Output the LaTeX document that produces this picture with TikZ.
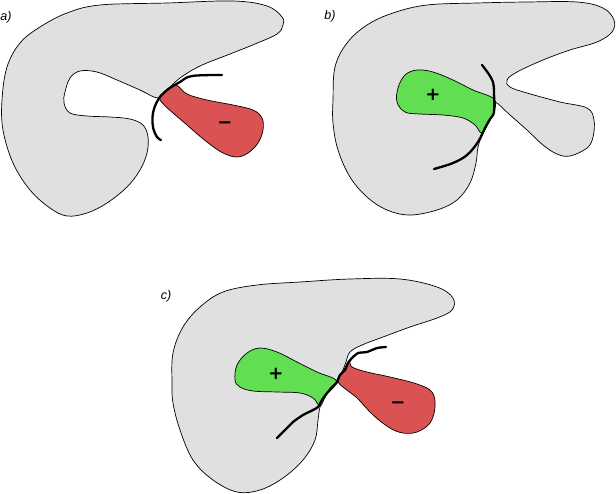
\documentclass[tikz,border=0pt]{standalone}
\usepackage{fontspec}
\setmainfont{Liberation Sans}
\newfontfamily\signfont{DejaVu Sans}
\definecolor{liver}{HTML}{E0E0E0}
\definecolor{neg}{HTML}{DB5252}
\definecolor{pos}{HTML}{62DE52}
\tikzset{
  organ/.style={fill=liver, draw=black, line width=0.7pt},
  lobeneg/.style={fill=neg, draw=black, line width=0.7pt},
  lobepos/.style={fill=pos, draw=black, line width=0.7pt},
  cut/.style={draw=black, line width=2.3pt, line cap=round, line join=round},
  lbl/.style={font=\itshape\fontsize{12.5}{12.5}\selectfont, inner sep=0pt},
  sign/.style={font=\signfont\bfseries\fontsize{18}{18}\selectfont, inner sep=0pt}
}
\begin{document}
\begin{tikzpicture}[x=1pt, y=-1pt]
\useasboundingbox (0,0) rectangle (616,493);
% ---------- a) ----------
\draw[organ] plot[smooth cycle, tension=0.6] coordinates {
 (180,78) (167,90) (158,98) (140,90) (117,80) (97,72) (80,71) (70,78) (65,92) (64,103)
 (70,113) (87,116) (110,117) (130,119) (143,125) (148,137) (147,153) (140,170)
 (127,187) (107,203) (87,213) (67,216) (50,208) (30,190) (13,163) (3,130) (2,100)
 (7,67) (20,43) (40,27) (67,13) (100,5) (167,3) (233,1) (267,6) (282,17) (283,25)
 (277,34) (255,44) (230,54) (200,66)};
\draw[lobeneg] plot[smooth cycle, tension=0.6] coordinates {
 (176,85) (187,94) (207,100) (233,105) (253,110) (262,118) (263,130) (258,143)
 (248,153) (237,157) (223,153) (207,142) (187,125) (160,100) (167,91)};
\draw[cut] plot[smooth, tension=0.6] coordinates {
 (222,75) (192,76) (180,82) (167,90) (158,100) (153,113) (153,127) (157,137) (161,140)};
\node[sign] (minusA) at (225,125) {−};
\node[lbl] (labA) at (6,17) {a)};
% ---------- b) ----------
\draw[organ] plot[smooth cycle, tension=0.6] coordinates {
 (333,100) (335,67) (347,43) (367,25) (393,13) (427,5) (477,3) (527,2) (577,2)
 (603,8) (614,20) (612,32) (597,42) (570,50) (543,60) (517,72) (507,80) (510,87)
 (527,93) (560,102) (587,108) (594,120) (593,137) (587,148) (570,156) (557,154)
 (543,145) (527,130) (510,115) (495,102) (494,112) (490,120) (483,133)
 (478,147) (476,163) (470,183) (457,200) (437,210) (410,215) (387,210) (367,197)
 (350,177) (338,150) (333,123)};
\draw[lobepos] plot[smooth cycle, tension=0.6] coordinates {
 (397,102) (398,88) (405,75) (417,70) (433,72) (453,80) (473,90) (494,99)
 (494,112) (490,120) (482,133) (475,125) (463,118) (443,115) (420,114) (405,112)};
\draw[cut] plot[smooth, tension=0.6] coordinates {
 (482,65) (488,73) (493,82) (494,93) (494,112) (490,119) (485,128) (478,142)
 (467,155) (453,163) (434,169)};
\node[sign] (plusB) at (433,95) {+};
\node[lbl] (labB) at (330,16) {b)};
% ---------- c) ----------
\draw[organ] plot[smooth cycle, tension=0.6] coordinates {
 (172,383) (173,353) (183,327) (200,307) (223,292) (257,285) (300,282) (350,279)
 (400,279) (437,287) (453,298) (452,310) (437,318) (410,327) (383,337) (362,345)
 (350,352) (346,362) (342,372) (336,382) (330,390) (324,399) (320,407)
 (318,420) (315,440) (303,460) (283,478) (260,490) (237,492) (213,480) (193,460)
 (180,430) (173,403)};
\draw[lobeneg] plot[smooth cycle, tension=0.6] coordinates {
 (349,361) (352,367) (367,372) (390,377) (417,384) (432,392) (435,407) (430,423)
 (417,432) (403,433) (390,428) (373,415) (357,398) (338,382) (343,372)};
\draw[lobepos] plot[smooth cycle, tension=0.6] coordinates {
 (235,380) (237,365) (247,353) (260,348) (277,352) (297,362) (317,372) (336,380)
 (330,388) (325,397) (320,406) (313,398) (300,393) (277,392) (253,391) (240,387)};
\draw[cut] plot[smooth, tension=0.35] coordinates {
 (386,347) (377,348) (367,352) (358,353) (352,358) (348,363) (345,370) (340,375)
 (337,382) (332,388) (327,393) (322,400) (318,407) (313,410) (303,415) (293,422)
 (283,432) (277,438)};
\node[sign] (plusC) at (276,374) {+};
\node[sign] (minusC) at (398,405) {−};
\node[lbl] (labC) at (166,296) {c)};
\end{tikzpicture}
\end{document}
